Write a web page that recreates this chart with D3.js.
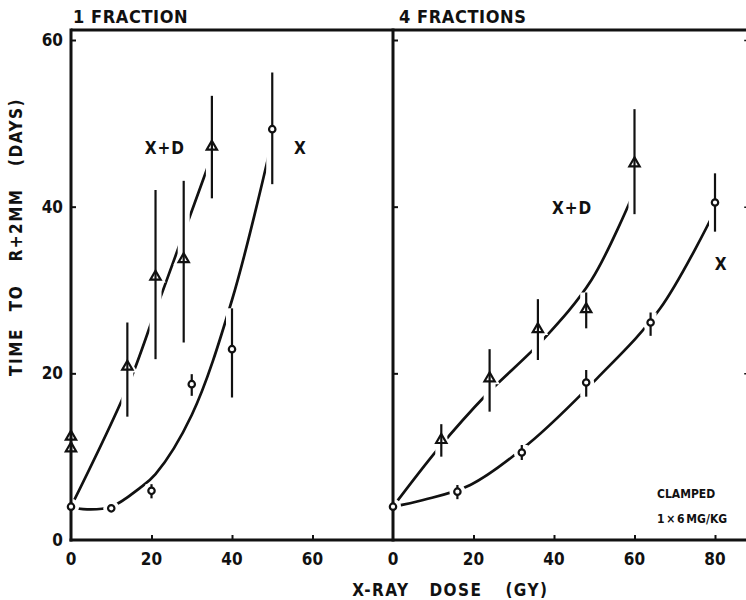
<!DOCTYPE html>
<html>
<head>
<meta charset="utf-8">
<script src="https://cdn.jsdelivr.net/npm/d3@7"></script>
<style>
  html, body { margin: 0; padding: 0; background: #fff; }
  svg { display: block; }
  text { font-family: "DejaVu Sans Condensed", "DejaVu Sans", sans-serif; font-weight: bold; fill: #111; }
</style>
</head>
<body>
<svg id="chart" width="746" height="600"></svg>
<script>
// ---- 1 fraction: X-ray + drug (triangles) ----
const fr1DoseXD = [0, 0, 14, 21, 28, 35];
const fr1TimeXD = [12.4, 11.0, 20.8, 31.6, 33.7, 47.2];
const fr1LoXD   = [null, null, 14.8, 21.7, 23.7, 41.0];
const fr1HiXD   = [null, null, 26.1, 42.0, 43.1, 53.3];

// ---- 1 fraction: X-ray alone (circles) ----
const fr1DoseX = [0, 10, 20, 30, 40, 50];
const fr1TimeX = [4.0, 3.8, 5.9, 18.7, 22.9, 49.3];
const fr1LoX   = [null, null, 5.0, 17.3, 17.1, 42.7];
const fr1HiX   = [null, null, 6.7, 19.9, 27.8, 56.1];

// ---- 4 fractions: X-ray + drug (triangles) ----
const fr4DoseXD = [12, 24, 36, 48, 60];
const fr4TimeXD = [12.0, 19.4, 25.3, 27.7, 45.2];
const fr4LoXD   = [10.0, 15.4, 21.6, 25.4, 39.1];
const fr4HiXD   = [13.9, 22.9, 28.9, 29.7, 51.7];

// ---- 4 fractions: X-ray alone (circles) ----
const fr4DoseX = [0, 16, 32, 48, 64, 80];
const fr4TimeX = [4.0, 5.8, 10.5, 18.9, 26.1, 40.5];
const fr4LoX   = [null, 4.9, 9.6, 17.2, 24.5, 37.0];
const fr4HiX   = [null, 6.6, 11.4, 20.4, 27.3, 44.0];

// ---- hand-fitted response curves (knots) ----
const fr1FitXDDose = [0, 14, 21, 28, 34.6];
const fr1FitXDTime = [4.0, 18.3, 27.5, 36.8, 45.6];
const fr1FitXDose  = [0, 3, 10, 17, 21, 30, 40, 50];
const fr1FitXTime  = [4.0, 3.7, 4.0, 6.2, 7.9, 15.0, 28.8, 48.0];
const fr4FitXDDose = [0, 11.3, 23.1, 37.4, 49.3, 59.4];
const fr4FitXDTime = [4.0, 11.0, 17.4, 24.1, 31.2, 41.2];
const fr4FitXDose  = [0, 7.5, 19.2, 33.3, 50.7, 66.4, 80.1];
const fr4FitXTime  = [4.0, 4.8, 6.6, 11.4, 19.4, 27.8, 39.6];

// ---- axis ticks and labels ----
const yTicks = [0, 20, 40, 60];
const xTicksLeft = [0, 20, 40, 60];
const xTicksRight = [0, 20, 40, 60, 80];
const panelTitles = ["1 FRACTION", "4 FRACTIONS"];
const yTitleWords = ["TIME", "TO", "R+2MM", "(DAYS)"];
const xTitleWords = ["X-RAY", "DOSE", "(GY)"];
const noteLines = ["CLAMPED", "1 × 6 MG/KG"];

const svg = d3.select("#chart");
const frameTop = 30, frameBottom = 540;

const y = d3.scaleLinear().domain([0, 60]).range([frameBottom, 40]);
const xL = d3.scaleLinear().domain([0, 80]).range([71, 393]);
const xR = d3.scaleLinear().domain([0, 80]).range([393, 715]);
const rightEdge = xR(89);

const zip = (a, b) => a.map((v, i) => [v, b[i]]);
const bars = (d, lo, hi) => d.map((v, i) => ({ x: v, lo: lo[i], hi: hi[i] })).filter(e => e.lo != null);

const panels = [
  { x: xL,
    curves: [zip(fr1FitXDDose, fr1FitXDTime), zip(fr1FitXDose, fr1FitXTime)],
    tri: zip(fr1DoseXD, fr1TimeXD), circ: zip(fr1DoseX, fr1TimeX),
    bars: bars(fr1DoseXD, fr1LoXD, fr1HiXD).concat(bars(fr1DoseX, fr1LoX, fr1HiX)) },
  { x: xR,
    curves: [zip(fr4FitXDDose, fr4FitXDTime), zip(fr4FitXDose, fr4FitXTime)],
    tri: zip(fr4DoseXD, fr4TimeXD), circ: zip(fr4DoseX, fr4TimeX),
    bars: bars(fr4DoseXD, fr4LoXD, fr4HiXD).concat(bars(fr4DoseX, fr4LoX, fr4HiX)) }
];

const triPath = d3.symbol(d3.symbolTriangle, 46)();
const defs = svg.append("defs");

// fitted curves, masked so that they break around the plotted points
panels.forEach((p, k) => {
  const mask = defs.append("mask").attr("id", "gap" + k)
    .attr("maskUnits", "userSpaceOnUse").attr("x", 0).attr("y", 0)
    .attr("width", 746).attr("height", 600);
  mask.append("rect").attr("width", 746).attr("height", 600).attr("fill", "#fff");
  mask.selectAll("line").data(p.bars).join("line")
    .attr("x1", d => p.x(d.x)).attr("x2", d => p.x(d.x))
    .attr("y1", d => y(d.lo)).attr("y2", d => y(d.hi))
    .attr("stroke", "#000").attr("stroke-width", 12);
  mask.selectAll("circle").data(p.circ).join("circle")
    .attr("cx", d => p.x(d[0])).attr("cy", d => y(d[1])).attr("r", 8).attr("fill", "#000");
  mask.selectAll("path").data(p.tri).join("path")
    .attr("d", triPath).attr("transform", d => `translate(${p.x(d[0])},${y(d[1])}) scale(2)`)
    .attr("fill", "#000");

  const line = d3.line().x(d => p.x(d[0])).y(d => y(d[1])).curve(d3.curveCatmullRom.alpha(0.5));
  svg.append("g").attr("mask", `url(#gap${k})`)
    .selectAll("path").data(p.curves).join("path")
    .attr("d", line).attr("fill", "none").attr("stroke", "#111")
    .attr("stroke-width", 2.7).attr("stroke-linecap", "butt");
});

// frame
const frame = svg.append("g").attr("stroke", "#111").attr("stroke-width", 3).attr("fill", "none");
frame.append("line").attr("x1", xL(0)).attr("x2", 746).attr("y1", frameTop).attr("y2", frameTop);
frame.append("line").attr("x1", xL(0) - 1.5).attr("x2", 746).attr("y1", frameBottom).attr("y2", frameBottom);
frame.append("line").attr("x1", xL(0)).attr("x2", xL(0)).attr("y1", frameTop - 1.5).attr("y2", frameBottom + 1.5);
frame.append("line").attr("x1", xR(0)).attr("x2", xR(0)).attr("y1", frameTop - 1.5).attr("y2", frameBottom + 1.5);
frame.append("line").attr("x1", rightEdge).attr("x2", rightEdge).attr("y1", frameTop).attr("y2", frameBottom);

// axes with inward ticks
const yAxisLeft = d3.axisRight(y).tickValues(yTicks.filter(t => t > 0)).tickSize(5).tickFormat("");
const yAxisRight = d3.axisLeft(y).tickValues(yTicks.filter(t => t > 0)).tickSize(7).tickFormat("");
[xL(0), xR(0)].forEach(px => {
  svg.append("g").attr("transform", `translate(${px},0)`).call(yAxisLeft)
    .call(g => g.select(".domain").remove())
    .call(g => g.selectAll("line").attr("stroke", "#111").attr("stroke-width", 2));
});
svg.append("g").attr("transform", `translate(${rightEdge},0)`).call(yAxisRight)
  .call(g => g.select(".domain").remove())
  .call(g => g.selectAll("line").attr("stroke", "#111").attr("stroke-width", 1.5));

[[xL, xTicksLeft], [xR, xTicksRight]].forEach(([sc, ticks]) => {
  svg.append("g").attr("transform", `translate(0,${frameBottom})`)
    .call(d3.axisTop(sc).tickValues(ticks.filter(t => t > 0)).tickSize(5).tickFormat(""))
    .call(g => g.select(".domain").remove())
    .call(g => g.selectAll("line").attr("stroke", "#111").attr("stroke-width", 2));
});

// tick labels
svg.append("g").selectAll("text").data(yTicks).join("text")
  .attr("x", 63).attr("y", d => y(d) + 6).attr("text-anchor", "end")
  .attr("font-size", 17).text(d => d);
[[xL, xTicksLeft], [xR, xTicksRight]].forEach(([sc, ticks]) => {
  svg.append("g").selectAll("text").data(ticks).join("text")
    .attr("x", d => sc(d)).attr("y", 565).attr("text-anchor", "middle")
    .attr("font-size", 17).text(d => d);
});

// error bars and markers
panels.forEach(p => {
  const g = svg.append("g");
  g.selectAll("line").data(p.bars).join("line")
    .attr("x1", d => p.x(d.x)).attr("x2", d => p.x(d.x))
    .attr("y1", d => y(d.lo)).attr("y2", d => y(d.hi))
    .attr("stroke", "#111").attr("stroke-width", 2.2);
  g.selectAll("circle").data(p.circ).join("circle")
    .attr("cx", d => p.x(d[0])).attr("cy", d => y(d[1])).attr("r", 3.2)
    .attr("fill", "#fff").attr("stroke", "#111").attr("stroke-width", 2.2);
  g.selectAll("path").data(p.tri).join("path")
    .attr("d", triPath).attr("transform", d => `translate(${p.x(d[0])},${y(d[1])})`)
    .attr("fill", "none").attr("stroke", "#111").attr("stroke-width", 2.2)
    .attr("stroke-linejoin", "miter");
});

// panel titles
svg.append("text").attr("x", 73).attr("y", 23).attr("font-size", 18)
  .attr("letter-spacing", 0.6).text(panelTitles[0]);
svg.append("text").attr("x", 399).attr("y", 23).attr("font-size", 18)
  .attr("letter-spacing", 0.6).text(panelTitles[1]);

// series labels
const seriesLabels = [
  { t: "X+D", x: xL(23.3), y: 148 },
  { t: "X",   x: xL(57), y: 148 },
  { t: "X+D", x: xR(44.5), y: 208 },
  { t: "X",   x: xR(81.5), y: 264 }
];
svg.append("g").selectAll("text").data(seriesLabels).join("text")
  .attr("x", d => d.x).attr("y", d => d.y + 6).attr("text-anchor", "middle")
  .attr("font-size", 17).attr("letter-spacing", 1).text(d => d.t);

// treatment note
svg.append("g").selectAll("text").data(noteLines).join("text")
  .attr("x", 657).attr("y", (d, i) => 498 + i * 25)
  .attr("font-size", 12).attr("letter-spacing", 0).attr("word-spacing", -2).text(d => d);

// y axis title (words spaced out along the axis)
const yWordCenters = [352, 298, 225, 132];
svg.append("g").selectAll("text").data(yTitleWords).join("text")
  .attr("transform", (d, i) => `translate(22,${yWordCenters[i]}) rotate(-90)`)
  .attr("text-anchor", "middle").attr("font-size", 17).attr("letter-spacing", 1.5).text(d => d);

// x axis title
const xWordCenters = [381, 456, 527];
svg.append("g").selectAll("text").data(xTitleWords).join("text")
  .attr("x", (d, i) => xWordCenters[i]).attr("y", 596)
  .attr("text-anchor", "middle").attr("font-size", 17).attr("letter-spacing", 1.5).text(d => d);
</script>
</body>
</html>
